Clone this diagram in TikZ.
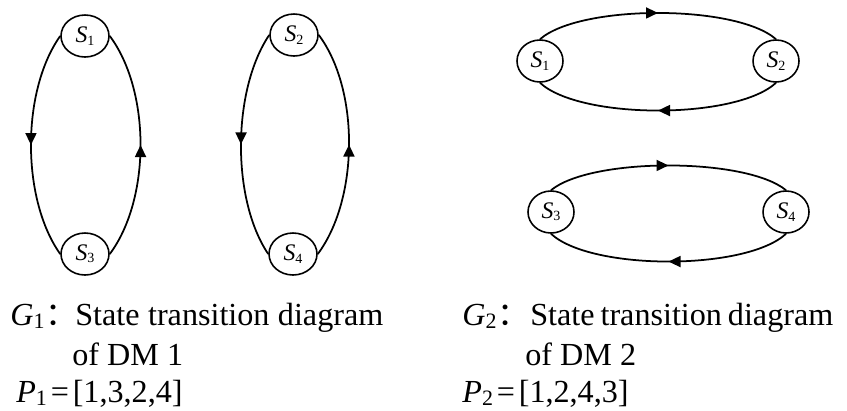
\documentclass[tikz,border=0pt]{standalone}
\usepackage{fontspec}
\setmainfont{Liberation Serif}
\newfontfamily\cjk{Noto Sans CJK SC}
\usetikzlibrary{arrows.meta, shapes.geometric, decorations.markings}

\newcommand{\lowidx}[1]{\raisebox{-0.12em}{\fontsize{12.5}{12.5}\selectfont #1}}
\newcommand{\stname}[1]{\textit{S}\raisebox{-0.1em}{\fontsize{8}{8}\selectfont #1}}

\begin{document}
\begin{tikzpicture}[
    x=0.02cm,
    y=-0.02cm,
    font=\fontsize{18.3}{22}\selectfont,
    state/.style={
        draw=black,
        ellipse,
        minimum width=0.96cm,
        minimum height=0.84cm,
        inner sep=0pt,
        line width=0.9pt,
        font=\fontsize{13.5}{14}\selectfont
    },
    cycarc/.style={
        line width=1pt,
        draw=black,
        postaction={decorate},
        decoration={markings,
            mark=at position 0.5 with {\arrow{Triangle[length=2.4mm,width=2.2mm]}}}
    },
    captext/.style={
        anchor=base west,
        inner sep=0pt
    }
]
\useasboundingbox (0,0) rectangle (847,410);

% ============================================================
% Left: G1, two vertical cycles
% ============================================================

\node[state] (a1) at (85,36)  {\stname{1}};
\node[state] (a3) at (85,254) {\stname{3}};
\node[state] (a2) at (294,35) {\stname{2}};
\node[state] (a4) at (293,254) {\stname{4}};

\draw[cycarc] (a1.west) .. controls +(-39,55) and +(-39,-55) .. (a3.west);
\draw[cycarc] (a3.east) .. controls +(41,-55) and +(41,55) .. (a1.east);

\draw[cycarc] (a2.west) .. controls +(-37,55) and +(-37,-55) .. (a4.west);
\draw[cycarc] (a4.east) .. controls +(41,-55) and +(41,55) .. (a2.east);

\node[captext] (g1) at (10,325) {\textit{G}\lowidx{1}\kern0.02em\cjk{：}};
\node[captext] (g1t) at (75,325) {\makebox[6.16cm][s]{State transition diagram}};
\node[captext] (g1d) at (72,365) {of DM 1};
\node[captext] (p1) at (16,402) {\textit{P}\lowidx{1}\kern0.12em=\kern0.12em[1,3,2,4]};

% ============================================================
% Right: G2, two horizontal cycles
% ============================================================

\node[state, minimum width=0.92cm] (b1) at (540,61)  {\stname{1}};
\node[state, minimum width=0.92cm] (b2) at (776,61)  {\stname{2}};
\node[state, minimum width=0.92cm] (b3) at (551,212) {\stname{3}};
\node[state, minimum width=0.92cm] (b4) at (786,212) {\stname{4}};

\draw[cycarc] (b1.north) .. controls +(40,-35) and +(-40,-35) .. (b2.north);
\draw[cycarc] (b2.south) .. controls +(-40,37) and +(40,37) .. (b1.south);

\draw[cycarc] (b3.north) .. controls +(40,-33) and +(-40,-33) .. (b4.north);
\draw[cycarc] (b4.south) .. controls +(-40,37) and +(40,37) .. (b3.south);

\node[captext] (g2) at (462,325) {\textit{G}\lowidx{2}\kern0.02em\cjk{：}};
\node[captext] (g2t) at (530,325) {\makebox[6.06cm][s]{State transition diagram}};
\node[captext] (g2d) at (525,365) {of DM 2};
\node[captext] (p2) at (462,402) {\textit{P}\lowidx{2}\kern0.12em=\kern0.12em[1,2,4,3]};
\end{tikzpicture}
\end{document}
